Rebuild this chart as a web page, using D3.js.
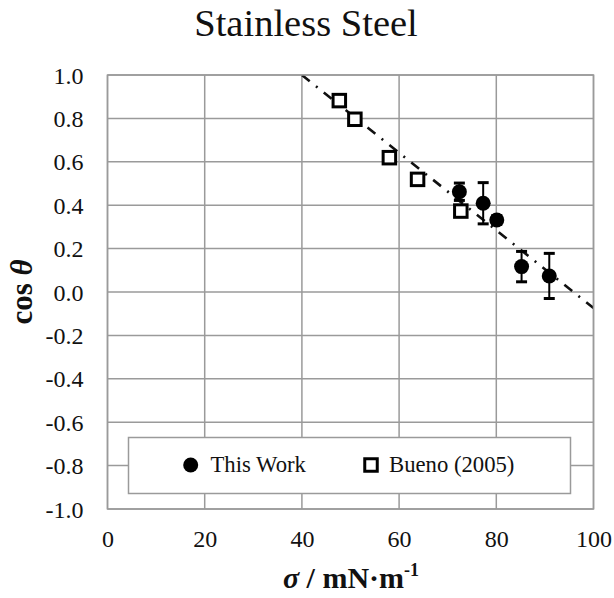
<!DOCTYPE html>
<html>
<head>
<meta charset="utf-8">
<script src="https://cdn.jsdelivr.net/npm/d3@7"></script>
<style>
  html, body { margin: 0; padding: 0; background: #fff; }
  svg { display: block; }
  text { font-family: "Liberation Serif", "Times New Roman", serif; fill: #111; }
</style>
</head>
<body>
<script>
// Contact angle vs. surface tension on stainless steel
const thisWorkSigma = [72.4, 77.3, 80.1, 85.2, 90.9];
const thisWorkCos   = [0.462, 0.409, 0.332, 0.117, 0.074];
const thisWorkErr   = [0.040, 0.095, 0.020, 0.070, 0.104];

const buenoSigma = [47.7, 50.9, 58.0, 63.8, 72.7];
const buenoCos   = [0.882, 0.796, 0.619, 0.519, 0.373];

// linear fit cos θ = a + b·σ
const fitIntercept = 1.716;
const fitSlope = -0.0179;

const xTicks = [0, 20, 40, 60, 80, 100];
const yTicks = [-1.0, -0.8, -0.6, -0.4, -0.2, 0.0, 0.2, 0.4, 0.6, 0.8, 1.0];

const W = 614, H = 598;
const plot = { left: 107.5, right: 593.5, top: 75, bottom: 509 };
const serif = "'Liberation Serif', 'Times New Roman', serif";

const svg = d3.select("body").append("svg").attr("width", W).attr("height", H);

const x = d3.scaleLinear().domain([0, 100]).range([plot.left, plot.right]);
const y = d3.scaleLinear().domain([-1, 1]).range([plot.bottom, plot.top]);

const gridColor = "#9a9a9a";

// gridlines
svg.append("g").selectAll("line.v").data(xTicks).join("line")
  .attr("x1", d => x(d)).attr("x2", d => x(d))
  .attr("y1", plot.top).attr("y2", plot.bottom)
  .attr("stroke", gridColor).attr("stroke-width", 1.5);
svg.append("g").selectAll("line.h").data(yTicks).join("line")
  .attr("x1", plot.left).attr("x2", plot.right)
  .attr("y1", d => y(d)).attr("y2", d => y(d))
  .attr("stroke", gridColor).attr("stroke-width", 1.5);

// axes (labels only; lines drawn as grid)
const xAxis = svg.append("g").attr("transform", `translate(0,${plot.bottom})`)
  .call(d3.axisBottom(x).tickValues(xTicks).tickSize(0).tickPadding(0).tickFormat(d3.format("d")));
xAxis.attr("font-family", serif).attr("font-size", 24);
xAxis.select(".domain").remove();
xAxis.selectAll("text").attr("dy", null).attr("y", 38).attr("fill", "#111");

const yAxis = svg.append("g").attr("transform", `translate(${plot.left},0)`)
  .call(d3.axisLeft(y).tickValues(yTicks).tickSize(0).tickPadding(24).tickFormat(d3.format(".1f")));
yAxis.attr("font-family", serif).attr("font-size", 24);
yAxis.select(".domain").remove();
yAxis.selectAll("text").attr("dy", "0.34em").attr("fill", "#111")
  .text(d => d3.format(".1f")(d).replace("−", "-"));

// clip for trend line
svg.append("clipPath").attr("id", "plotClip").append("rect")
  .attr("x", plot.left).attr("y", plot.top)
  .attr("width", plot.right - plot.left).attr("height", plot.bottom - plot.top);

// trend line from cos θ = 1 to σ = 100
const xStart = (1 - fitIntercept) / fitSlope;
const fitPts = [xStart, 100].map(s => [s, fitIntercept + fitSlope * s]);
svg.append("path")
  .attr("clip-path", "url(#plotClip)")
  .attr("d", d3.line().x(d => x(d[0])).y(d => y(d[1]))(fitPts))
  .attr("fill", "none").attr("stroke", "#111").attr("stroke-width", 2.6)
  .attr("stroke-dasharray", "10,8,2,8");

// Bueno (2005) squares
const sq = 12.5;
svg.append("g").selectAll("rect").data(d3.zip(buenoSigma, buenoCos)).join("rect")
  .attr("x", d => x(d[0]) - sq / 2).attr("y", d => y(d[1]) - sq / 2)
  .attr("width", sq).attr("height", sq)
  .attr("fill", "#fff").attr("stroke", "#000").attr("stroke-width", 3);

// This Work: error bars then filled circles
const tw = d3.zip(thisWorkSigma, thisWorkCos, thisWorkErr);
const eb = svg.append("g").attr("stroke", "#000").attr("stroke-width", 2);
eb.selectAll("line.v").data(tw).join("line")
  .attr("x1", d => x(d[0])).attr("x2", d => x(d[0]))
  .attr("y1", d => y(d[1] + d[2])).attr("y2", d => y(d[1] - d[2]));
eb.selectAll("line.t").data(tw).join("line")
  .attr("x1", d => x(d[0]) - 5.5).attr("x2", d => x(d[0]) + 5.5)
  .attr("y1", d => y(d[1] + d[2])).attr("y2", d => y(d[1] + d[2])).attr("stroke-width", 3);
eb.selectAll("line.b").data(tw).join("line")
  .attr("x1", d => x(d[0]) - 5.5).attr("x2", d => x(d[0]) + 5.5)
  .attr("y1", d => y(d[1] - d[2])).attr("y2", d => y(d[1] - d[2])).attr("stroke-width", 3);
svg.append("g").selectAll("circle").data(tw).join("circle")
  .attr("cx", d => x(d[0])).attr("cy", d => y(d[1])).attr("r", 7.5)
  .attr("fill", "#000");

// plot border
svg.append("rect")
  .attr("x", plot.left).attr("y", plot.top)
  .attr("width", plot.right - plot.left).attr("height", plot.bottom - plot.top)
  .attr("fill", "none").attr("stroke", gridColor).attr("stroke-width", 1.5);

// legend
const lg = svg.append("g");
lg.append("rect").attr("x", 128.5).attr("y", 437.5).attr("width", 442).attr("height", 56)
  .attr("fill", "#fff").attr("stroke", gridColor).attr("stroke-width", 1.5);
lg.append("circle").attr("cx", 190.7).attr("cy", 465).attr("r", 7.5).attr("fill", "#000");
lg.append("text").attr("x", 210.5).attr("y", 472).attr("font-size", 22.7).text("This Work");
lg.append("rect").attr("x", 371 - 6.25).attr("y", 465 - 6.25).attr("width", 12.5).attr("height", 12.5)
  .attr("fill", "#fff").attr("stroke", "#000").attr("stroke-width", 3);
lg.append("text").attr("x", 389).attr("y", 472).attr("font-size", 22.7).text("Bueno (2005)");

// title
svg.append("text").attr("x", 306).attr("y", 36).attr("text-anchor", "middle")
  .attr("font-size", 38.5).text("Stainless Steel");

// x-axis title
const xt = svg.append("text").attr("x", 351).attr("y", 588).attr("text-anchor", "middle")
  .attr("font-size", 30).attr("font-weight", "bold");
xt.append("tspan").attr("font-style", "italic").text("σ");
xt.append("tspan").text(" / mN·m");
xt.append("tspan").attr("font-size", 18).attr("dy", -12).text("-1");

// y-axis title
const yt = svg.append("text").attr("transform", "translate(32,292) rotate(-90)")
  .attr("text-anchor", "middle").attr("font-size", 31).attr("font-weight", "bold");
yt.append("tspan").text("cos ");
yt.append("tspan").attr("font-style", "italic").text("θ");
</script>
</body>
</html>
